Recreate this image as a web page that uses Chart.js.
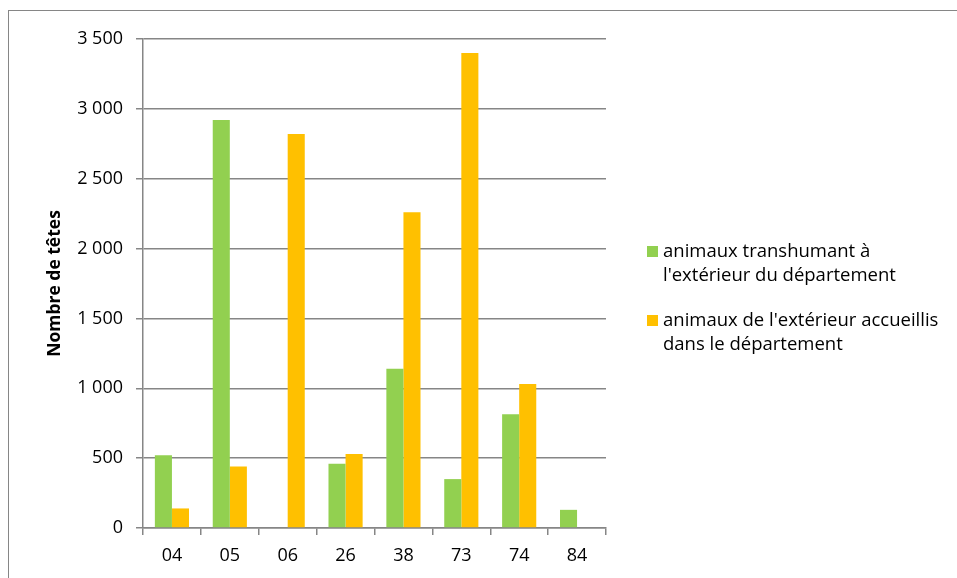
<!DOCTYPE html>
<html>
<head>
<meta charset="utf-8">
<script src="https://cdn.jsdelivr.net/npm/chart.js@4/dist/chart.umd.min.js"></script>
<style>
  html, body { margin: 0; padding: 0; background: #fff; }
  #wrap { position: relative; width: 957px; height: 578px; overflow: hidden; font-family: "Open Sans", sans-serif; }
  #frame { position: absolute; left: 8px; top: 10px; width: 1200px; height: 900px;
           border-top: 1px solid #868686; border-left: 1px solid #868686; }
  #chart { position: absolute; left: 0; top: 0; }
  .leg-item { position: absolute; left: 663px; width: 288px; font-size: 18.5px; line-height: 24px; color: #000; }
  .leg-box { position: absolute; left: -16px; top: 8px; width: 11px; height: 11px; }
</style>
</head>
<body>
<div id="wrap">
  <div id="frame"></div>
  <canvas id="chart" width="957" height="578"></canvas>
  <div id="legend"></div>
</div>
<script>
// --- données ---
const departements = ["04", "05", "06", "26", "38", "73", "74", "84"];
const transhumantExterieur = [520, 2920, 0, 460, 1140, 350, 815, 130];
const accueillisDepartement = [140, 440, 2820, 530, 2260, 3400, 1030, 0];
const seriesNames = [
  "animaux transhumant à l'extérieur du département",
  "animaux de l'extérieur accueillis dans le département"
];
const seriesColors = ["#92D050", "#FFC000"];
const yTicks = [0, 500, 1000, 1500, 2000, 2500, 3000, 3500];
const yTickLabels = ["0", "500", "1 000", "1 500", "2 000", "2 500", "3 000", "3 500"];
const yTitle = "Nombre de têtes";

const gridColor = "#868686";
const tickFont = { family: "Open Sans", size: 18 };

const ctx = document.getElementById("chart");
const chart = new Chart(ctx, {
  type: "bar",
  data: {
    labels: departements,
    datasets: [
      { label: seriesNames[0], data: transhumantExterieur, backgroundColor: seriesColors[0] },
      { label: seriesNames[1], data: accueillisDepartement, backgroundColor: seriesColors[1] }
    ]
  },
  options: {
    responsive: false,
    animation: false,
    categoryPercentage: 0.59,
    barPercentage: 1,
    layout: { padding: { left: 0, top: 39, right: 351, bottom: 0 } },
    plugins: { legend: { display: false }, tooltip: { enabled: false } },
    scales: {
      x: {
        grid: { display: true, drawOnChartArea: false, color: gridColor, lineWidth: 1.5, tickLength: 7, offset: true },
        border: { color: gridColor, width: 1.5 },
        ticks: { color: "#000", font: tickFont, padding: 10 },
        afterFit: s => { s.height = 578 - 528; }
      },
      y: {
        min: 0,
        max: 3500,
        afterBuildTicks: s => { s.ticks = yTicks.map(v => ({ value: v })); },
        grid: { color: gridColor, lineWidth: 1.5, tickLength: 7 },
        border: { color: gridColor, width: 1.5 },
        ticks: {
          color: "#000",
          font: tickFont,
          padding: 13,
          callback: v => yTickLabels[yTicks.indexOf(v)]
        },
        title: {
          display: true,
          text: yTitle,
          color: "#000",
          font: { family: "Open Sans", size: 17.5, weight: "bold" },
          padding: { top: 45, bottom: 0 }
        },
        afterFit: s => { s.width = 143; }
      }
    }
  }
});

// légende HTML à droite
const legendTops = [238, 307];
const legend = document.getElementById("legend");
chart.data.datasets.forEach((ds, i) => {
  const item = document.createElement("div");
  item.className = "leg-item";
  item.style.top = legendTops[i] + "px";
  const box = document.createElement("span");
  box.className = "leg-box";
  box.style.background = ds.backgroundColor;
  item.appendChild(box);
  item.appendChild(document.createTextNode(ds.label));
  legend.appendChild(item);
});
</script>
</body>
</html>
